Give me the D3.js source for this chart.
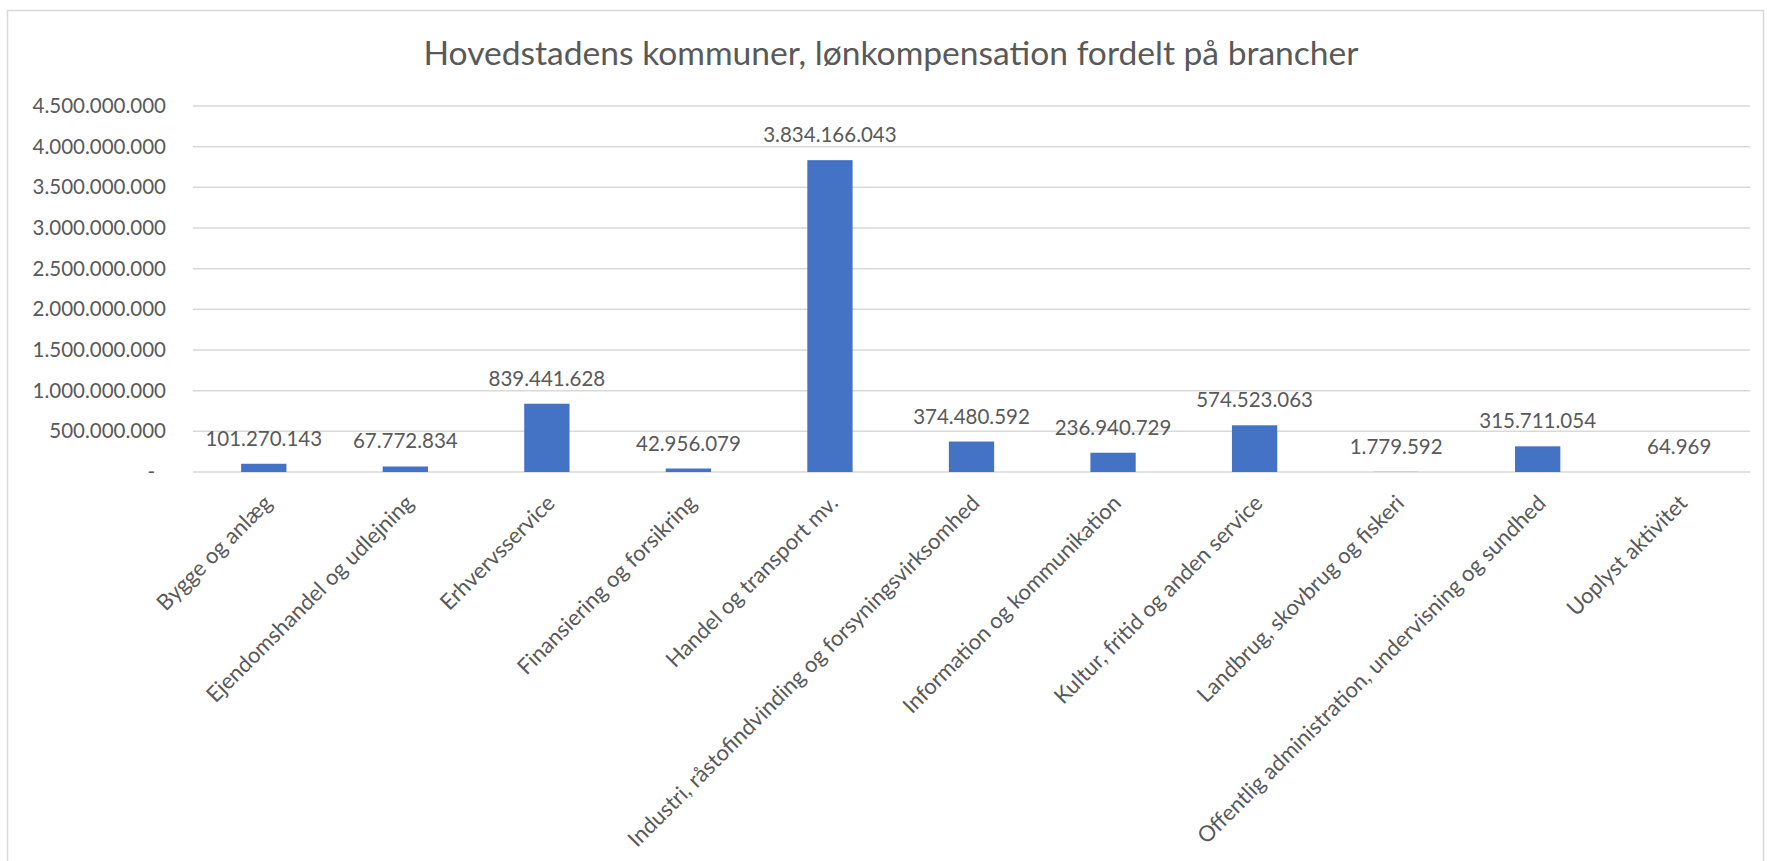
<!DOCTYPE html>
<html>
<head>
<meta charset="utf-8">
<script src="https://cdn.jsdelivr.net/npm/d3@7"></script>
<style>
  html, body { margin: 0; padding: 0; background: #fff; }
  svg text { font-family: Lato, "Open Sans", sans-serif; fill: #595959; }
</style>
</head>
<body>
<svg id="chart"></svg>
<script>
const width = 1767;
const height = 861;

const title = "Hovedstadens kommuner, lønkompensation fordelt på brancher";

const categories = [
  "Bygge og anlæg",
  "Ejendomshandel og udlejning",
  "Erhvervsservice",
  "Finansiering og forsikring",
  "Handel og transport mv.",
  "Industri, råstofindvinding og forsyningsvirksomhed",
  "Information og kommunikation",
  "Kultur, fritid og anden service",
  "Landbrug, skovbrug og fiskeri",
  "Offentlig administration, undervisning og sundhed",
  "Uoplyst aktivitet"
];

const values = [
  101270143, 67772834, 839441628, 42956079, 3834166043,
  374480592, 236940729, 574523063, 1779592, 315711054, 64969
];

const yTicks = [0, 500000000, 1000000000, 1500000000, 2000000000,
  2500000000, 3000000000, 3500000000, 4000000000, 4500000000];

const margin = { left: 193, right: 17, top: 106, bottom: 389 };
const innerWidth = width - margin.left - margin.right;
const innerHeight = height - margin.top - margin.bottom;

const locale = d3.formatLocale({ decimal: ",", thousands: ".", grouping: [3], currency: ["", ""] });
const fmt = locale.format(",d");

const svg = d3.select("#chart")
  .attr("width", width)
  .attr("height", height);

// chart area border
svg.append("rect")
  .attr("x", 7.5).attr("y", 10.5)
  .attr("width", 1756).attr("height", 870)
  .attr("fill", "#fff")
  .attr("stroke", "#d9d9d9")
  .attr("stroke-width", 1.5);

svg.append("text")
  .attr("x", 891)
  .attr("y", 65)
  .attr("text-anchor", "middle")
  .style("font-size", "33.6px")
  .text(title);

const g = svg.append("g")
  .attr("transform", `translate(${margin.left},${margin.top})`);

const x = d3.scaleBand()
  .domain(categories)
  .range([0, innerWidth])
  .paddingInner(0.68)
  .paddingOuter(0.34);

const y = d3.scaleLinear()
  .domain([0, 4500000000])
  .range([innerHeight, 0]);

// gridlines
g.append("g")
  .selectAll("line")
  .data(yTicks)
  .join("line")
  .attr("x1", 0)
  .attr("x2", innerWidth)
  .attr("y1", d => y(d))
  .attr("y2", d => y(d))
  .attr("stroke", "#d9d9d9")
  .attr("stroke-width", 1.5);

// y axis labels
const yAxis = g.append("g")
  .call(d3.axisLeft(y).tickValues(yTicks).tickSize(0).tickPadding(27)
    .tickFormat(d => d === 0 ? "-" : fmt(d)));
yAxis.select(".domain").remove();
yAxis.selectAll("text")
  .style("font-size", "20.5px")
  .attr("fill", "#595959")
  .attr("dx", d => d === 0 ? -11 : 0);

// bars
g.selectAll("rect.bar")
  .data(values)
  .join("rect")
  .attr("class", "bar")
  .attr("x", (d, i) => x(categories[i]))
  .attr("y", d => y(d))
  .attr("width", x.bandwidth())
  .attr("height", d => innerHeight - y(d))
  .attr("fill", "#4472c4");

// data labels
g.selectAll("text.val")
  .data(values)
  .join("text")
  .attr("class", "val")
  .attr("x", (d, i) => x(categories[i]) + x.bandwidth() / 2)
  .attr("y", d => y(d) - 18)
  .attr("text-anchor", "middle")
  .style("font-size", "20.5px")
  .text(d => fmt(d));

// category labels, rotated
g.selectAll("text.cat")
  .data(categories)
  .join("text")
  .attr("class", "cat")
  .attr("transform", d => `translate(${x(d) + x.bandwidth() / 2 + 4},${innerHeight + 27}) rotate(-45)`)
  .attr("text-anchor", "end")
  .attr("dy", "0.35em")
  .style("font-size", "22px")
  .text(d => d);
</script>
</body>
</html>
